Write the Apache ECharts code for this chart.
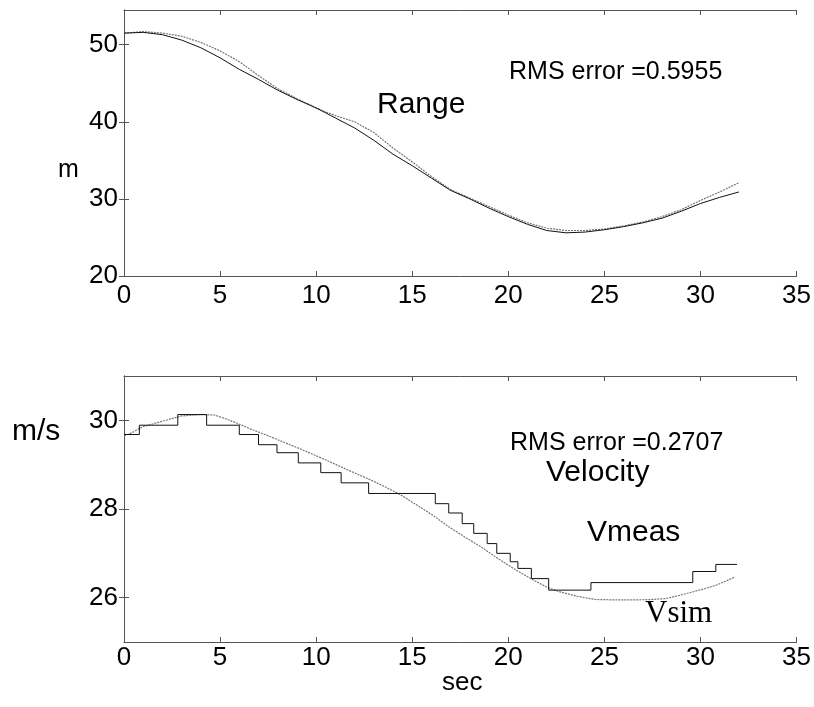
<!DOCTYPE html>
<html>
<head>
<meta charset="utf-8">
<script src="https://cdn.jsdelivr.net/npm/echarts@6/dist/echarts.min.js"></script>
<style>html,body{margin:0;padding:0;background:#fff;}#c{width:814px;height:707px;}</style>
</head>
<body>
<div id="c"></div>
<script>
// ---- Data ----
const rangeTime = [0,1,2,3,4,5,6,7,8,9,10,11,12,13,14,15,16,17,18,19,20,21,22,23,24,25,26,27,28,29,30,31,32];
const rangeSim  = [51.5,51.7,51.5,51.1,50.3,49.2,47.8,46.0,44.3,43.0,41.8,40.8,40.0,38.6,36.6,34.8,32.9,31.2,30.1,29.0,27.9,26.9,26.2,25.9,25.9,26.1,26.5,27.0,27.7,28.6,29.8,30.9,32.1];
const rangeMeas = [51.5,51.6,51.3,50.6,49.6,48.3,46.8,45.5,44.1,42.9,41.8,40.5,39.2,37.6,35.8,34.3,32.7,31.1,30.0,28.8,27.7,26.7,25.9,25.6,25.7,26.0,26.4,26.9,27.5,28.4,29.4,30.2,30.9];

const vsimTime = [0,0.4,1,2,3,4,4.7,5.2,5.8,6.5,7.45,8.3,9.2,10,10.9,11.7,12.6,13.5,14.4,15.2,16.1,16.9,17.8,18.6,19.5,20.3,21.2,22.0,22.6,23.6,24.5,25.5,26.7,27.5,28.2,28.9,29.6,30.2,30.8,31.3,31.8];
const vsimVal  = [29.65,29.72,29.86,29.98,30.1,30.13,30.12,30.05,29.95,29.82,29.66,29.51,29.35,29.2,29.03,28.87,28.7,28.52,28.32,28.1,27.85,27.6,27.35,27.14,26.87,26.65,26.42,26.24,26.14,26.03,25.96,25.95,25.95,25.96,25.98,26.05,26.13,26.2,26.28,26.37,26.47];

const vmeasTime = [0,0.8,2.8,4.3,6.0,7.0,7.96,9.07,10.24,11.3,12.73,16.2,16.9,17.6,18.2,18.9,19.4,20.1,20.5,21.2,22.1,24.3,29.6,30.8,31.9];
const vmeasVal  = [29.68,29.89,30.13,29.89,29.68,29.45,29.27,29.04,28.82,28.59,28.35,28.12,27.91,27.67,27.45,27.22,27.0,26.81,26.66,26.43,26.17,26.34,26.59,26.75,26.75];

const xTicks = [0,5,10,15,20,25,30,35];
const rangeTicks = [20,30,40,50];
const velTicks = [26,28,30];

// ---- Build ----
const zip = (a,b) => a.map((t,i)=>[t,b[i]]);
const FONT = "'Liberation Sans', Arial, Helvetica, sans-serif";
const AX = '#555';

function xAxisPair(gi, margin){
  return [
    {type:'value', gridIndex:gi, min:0, max:35, interval:5, position:'bottom',
     axisLine:{show:true, lineStyle:{color:AX, width:1}},
     axisTick:{show:true, inside:true, length:5, lineStyle:{color:AX}},
     axisLabel:{show:true, margin:margin, color:'#000', fontSize:26, fontFamily:FONT},
     splitLine:{show:false}},
    {type:'value', gridIndex:gi, min:0, max:35, interval:5, position:'top',
     axisLine:{show:true, lineStyle:{color:AX, width:1}},
     axisTick:{show:true, inside:true, length:5, lineStyle:{color:AX}},
     axisLabel:{show:false}, splitLine:{show:false}}
  ];
}
function yAxisPair(gi, min, max, ticks){
  const common = {type:'value', gridIndex:gi, min:min, max:max, splitLine:{show:false}};
  return [
    Object.assign({}, common, {position:'left',
     axisLine:{show:true, lineStyle:{color:AX, width:1}},
     axisTick:{show:true, inside:true, length:5, lineStyle:{color:AX}, customValues:ticks},
     axisLabel:{show:true, margin:6, color:'#000', fontSize:26, fontFamily:FONT, customValues:ticks}}),
    Object.assign({}, common, {position:'right',
     axisLine:{show:true, lineStyle:{color:AX, width:1}},
     axisTick:{show:true, inside:true, length:5, lineStyle:{color:AX}, customValues:ticks},
     axisLabel:{show:false}})
  ];
}

function txt(x, y, s, size, family){
  return {type:'text', x:x, y:y, style:{text:s, fontSize:size, fontFamily:family||FONT, fill:'#000', textAlign:'left', textVerticalAlign:'middle'}};
}

const option = {
  animation:false,
  backgroundColor:'#fff',
  grid:[
    {left:124, right:12, top:10, height:266},
    {left:124, right:12, top:376, height:266}
  ],
  xAxis:[...xAxisPair(0,7), ...xAxisPair(1,3)],
  yAxis:[...yAxisPair(0,20,54.5,rangeTicks), ...yAxisPair(1,25,31,velTicks)],
  series:[
    {type:'line', xAxisIndex:0, yAxisIndex:0, data:zip(rangeTime,rangeSim), showSymbol:false,
     lineStyle:{color:'#777', width:1.2, type:[2,1]}},
    {type:'line', xAxisIndex:0, yAxisIndex:0, data:zip(rangeTime,rangeMeas), showSymbol:false,
     lineStyle:{color:'#111', width:1}},
    {type:'line', xAxisIndex:2, yAxisIndex:2, data:zip(vsimTime,vsimVal), showSymbol:false,
     lineStyle:{color:'#777', width:1.2, type:[2,1]}},
    {type:'line', xAxisIndex:2, yAxisIndex:2, data:zip(vmeasTime,vmeasVal), showSymbol:false, step:'end',
     lineStyle:{color:'#111', width:1}}
  ],
  graphic:[
    txt(509, 72, 'RMS error =0.5955', 25),
    txt(377, 105, 'Range', 30),
    txt(510, 443, 'RMS error =0.2707', 25),
    txt(546, 473, 'Velocity', 30),
    txt(587, 533, 'Vmeas', 30),
    txt(645, 614, 'Vsim', 31, "'Liberation Serif', 'Times New Roman', serif"),
    txt(58, 170, 'm', 25),
    txt(12, 432, 'm/s', 30),
    txt(442, 683, 'sec', 26)
  ]
};
const chart = echarts.init(document.getElementById('c'), null, {renderer:'canvas'});
chart.setOption(option);
</script>
</body>
</html>
